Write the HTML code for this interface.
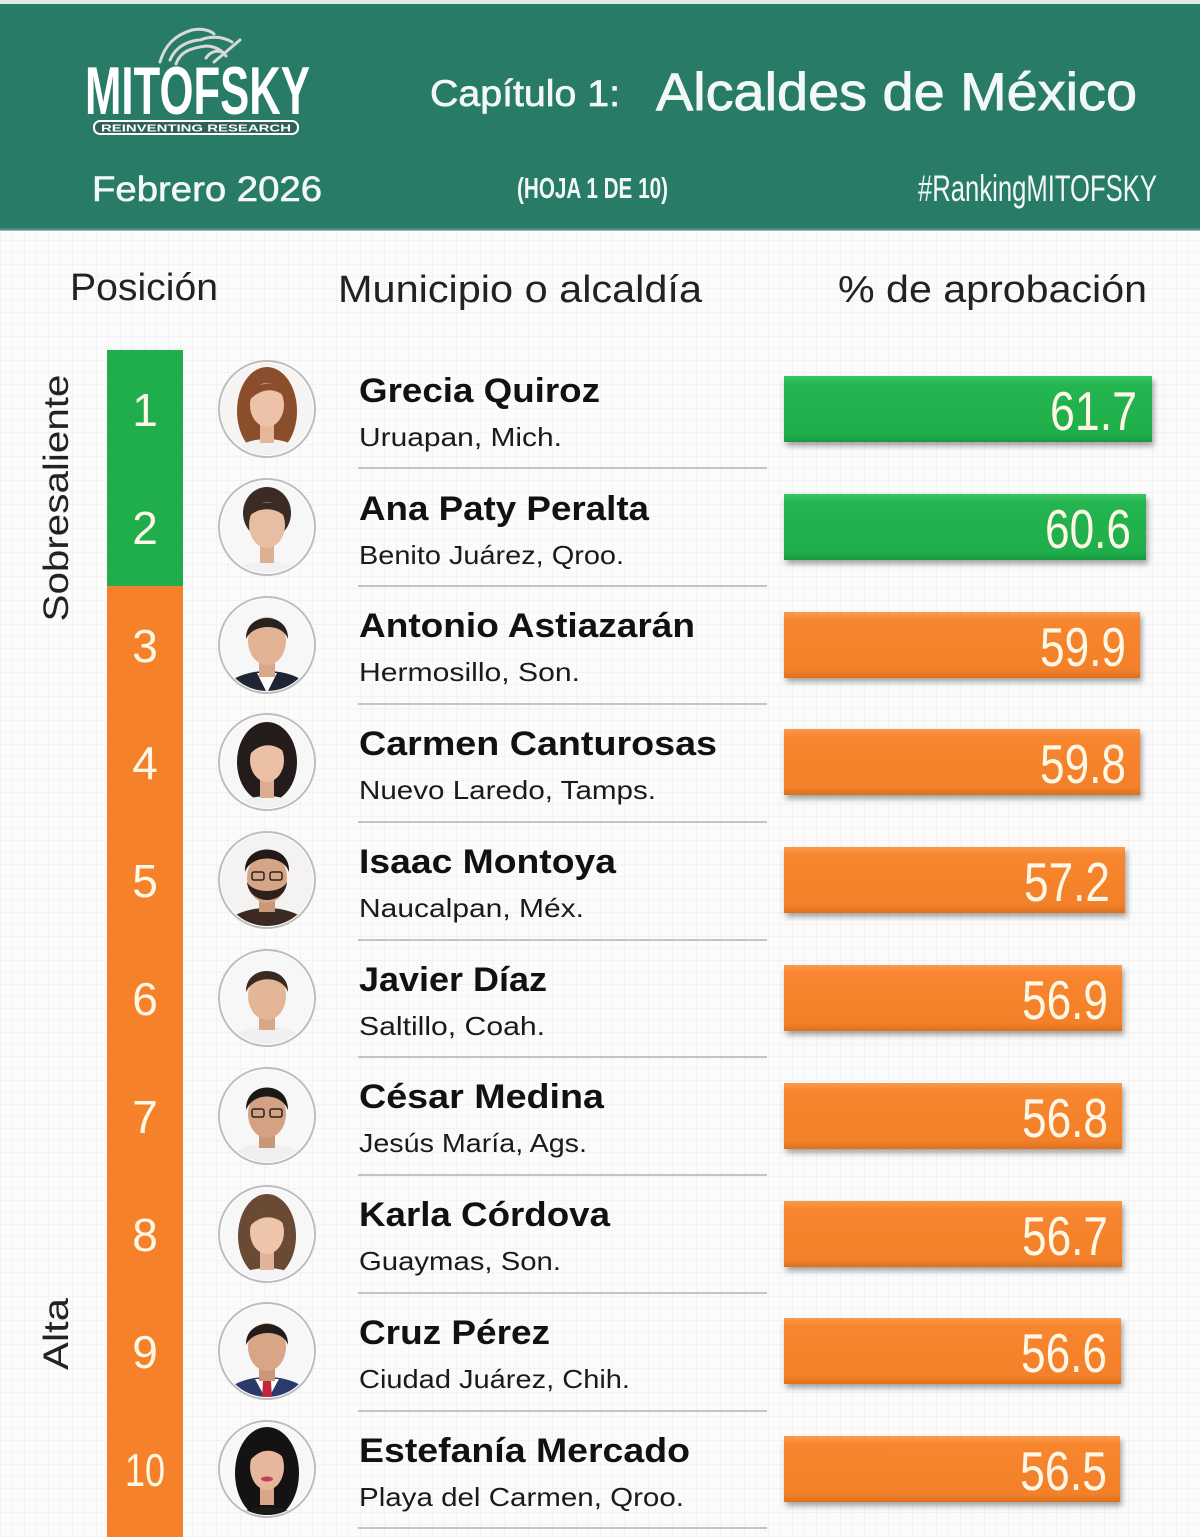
<!DOCTYPE html>
<html>
<head>
<meta charset="utf-8">
<style>
html,body{margin:0;padding:0;background:#fff;}
svg{display:block;}
text{font-family:"Liberation Sans",sans-serif;}
</style>
</head>
<body>
<svg width="1200" height="1537" viewBox="0 0 1200 1537" xmlns="http://www.w3.org/2000/svg">
<defs>
  <pattern id="grid" width="12" height="12" patternUnits="userSpaceOnUse">
    <rect width="12" height="12" fill="#fbfbfb"/>
    <path d="M12 0 L0 0 0 12" fill="none" stroke="#ebebeb" stroke-width="1"/>
  </pattern>
  <linearGradient id="gG" x1="0" y1="0" x2="0" y2="1">
    <stop offset="0" stop-color="#3cc462"/>
    <stop offset="0.12" stop-color="#25b550"/>
    <stop offset="0.88" stop-color="#1fae4a"/>
    <stop offset="1" stop-color="#179a3e"/>
  </linearGradient>
  <linearGradient id="gO" x1="0" y1="0" x2="0" y2="1">
    <stop offset="0" stop-color="#fb9a4c"/>
    <stop offset="0.12" stop-color="#f7862f"/>
    <stop offset="0.88" stop-color="#f38029"/>
    <stop offset="1" stop-color="#dd6f1d"/>
  </linearGradient>
  <filter id="sh" x="-5%" y="-20%" width="115%" height="160%">
    <feDropShadow dx="2" dy="4" stdDeviation="3" flood-color="#000" flood-opacity="0.35"/>
  </filter>
  <clipPath id="cc"><circle cx="0" cy="0" r="46"/></clipPath>
</defs>

<!-- background -->
<rect x="0" y="0" width="1200" height="1537" fill="url(#grid)"/>

<!-- header -->
<rect x="0" y="0" width="1200" height="4" fill="#dcebe6"/>
<rect x="0" y="4" width="1200" height="226" fill="#277b67"/>
<rect x="0" y="228" width="1200" height="3" fill="#5f9d8d" opacity="0.6"/>

<!-- logo bird -->
<g stroke="#d9d9d9" stroke-width="3" fill="none" stroke-linecap="round">
  <path d="M160 62 C165 45 175 35 192 30 C200 28 210 30 214 34"/>
  <path d="M170 60 C175 48 185 42 198 40"/>
  <path d="M176 64 C180 52 190 48 206 46 C214 46 222 50 226 56"/>
  <path d="M200 40 C210 36 222 36 232 42"/>
  <path d="M214 62 L240 40"/>
  <path d="M206 58 C210 52 216 50 222 52"/>
</g>
<text x="85" y="114" font-size="68" font-weight="bold" fill="#ffffff" textLength="225" lengthAdjust="spacingAndGlyphs">MITOFSKY</text>
<rect x="94" y="121" width="204" height="13" rx="6" fill="#2f5f55" stroke="#ffffff" stroke-width="2"/>
<text x="101" y="131.5" font-size="10" font-weight="bold" fill="#ffffff" textLength="190" lengthAdjust="spacingAndGlyphs">REINVENTING RESEARCH</text>

<text x="92" y="201" font-size="35" fill="#f2f8f5" stroke="#f2f8f5" stroke-width="0.6" textLength="230" lengthAdjust="spacingAndGlyphs">Febrero  2026</text>
<text x="430" y="106" font-size="37" fill="#f2f8f5" stroke="#f2f8f5" stroke-width="0.7" textLength="190" lengthAdjust="spacingAndGlyphs">Capítulo 1:</text>
<text x="656" y="110" font-size="53" fill="#f2f8f5" stroke="#f2f8f5" stroke-width="0.9" textLength="481" lengthAdjust="spacingAndGlyphs">Alcaldes de México</text>
<text x="517" y="198" font-size="29" font-weight="bold" fill="#f2f8f5" textLength="151" lengthAdjust="spacingAndGlyphs">(HOJA 1 DE 10)</text>
<text x="918" y="201" font-size="37" fill="#f2f8f5" textLength="239" lengthAdjust="spacingAndGlyphs">#RankingMITOFSKY</text>

<!-- column headers -->
<text x="70" y="300" font-size="38" fill="#222" textLength="148" lengthAdjust="spacingAndGlyphs">Posición</text>
<text x="338" y="302" font-size="38" fill="#222" textLength="364" lengthAdjust="spacingAndGlyphs">Municipio o alcaldía</text>
<text x="838" y="302" font-size="38" fill="#222" textLength="309" lengthAdjust="spacingAndGlyphs">% de aprobación</text>

<!-- rank column -->
<rect x="107" y="350" width="76" height="236" fill="#1fae4b"/>
<rect x="107" y="586" width="76" height="951" fill="#f5822a"/>

<!-- vertical labels -->
<text transform="translate(68,498) rotate(-90)" text-anchor="middle" font-size="35" fill="#222" textLength="247" lengthAdjust="spacingAndGlyphs">Sobresaliente</text>
<text transform="translate(68,1334) rotate(-90)" text-anchor="middle" font-size="35" fill="#222" textLength="72" lengthAdjust="spacingAndGlyphs">Alta</text>

<!-- rank numbers -->
<g font-size="46" fill="#fff8e6" text-anchor="middle">
  <text x="145" y="426">1</text>
  <text x="145" y="544">2</text>
  <text x="145" y="662">3</text>
  <text x="145" y="779">4</text>
  <text x="145" y="897">5</text>
  <text x="145" y="1015">6</text>
  <text x="145" y="1133">7</text>
  <text x="145" y="1251">8</text>
  <text x="145" y="1368">9</text>
  <text x="145" y="1486" textLength="40" lengthAdjust="spacingAndGlyphs">10</text>
</g>

<!-- separators -->
<g stroke="#c4c4c4" stroke-width="2">
  <line x1="358" y1="468" x2="767" y2="468"/>
  <line x1="358" y1="586" x2="767" y2="586"/>
  <line x1="358" y1="704" x2="767" y2="704"/>
  <line x1="358" y1="822" x2="767" y2="822"/>
  <line x1="358" y1="940" x2="767" y2="940"/>
  <line x1="358" y1="1057" x2="767" y2="1057"/>
  <line x1="358" y1="1175" x2="767" y2="1175"/>
  <line x1="358" y1="1293" x2="767" y2="1293"/>
  <line x1="358" y1="1411" x2="767" y2="1411"/>
  <line x1="358" y1="1528" x2="767" y2="1528"/>
</g>

<!-- names & cities -->
<g fill="#111">
  <g font-size="34" font-weight="bold">
    <text x="359" y="402" textLength="241" lengthAdjust="spacingAndGlyphs">Grecia Quiroz</text>
    <text x="359" y="520" textLength="290" lengthAdjust="spacingAndGlyphs">Ana Paty Peralta</text>
    <text x="359" y="637" textLength="336" lengthAdjust="spacingAndGlyphs">Antonio Astiazarán</text>
    <text x="359" y="755" textLength="358" lengthAdjust="spacingAndGlyphs">Carmen Canturosas</text>
    <text x="359" y="873" textLength="257" lengthAdjust="spacingAndGlyphs">Isaac Montoya</text>
    <text x="359" y="991" textLength="188" lengthAdjust="spacingAndGlyphs">Javier Díaz</text>
    <text x="359" y="1108" textLength="245" lengthAdjust="spacingAndGlyphs">César Medina</text>
    <text x="359" y="1226" textLength="251" lengthAdjust="spacingAndGlyphs">Karla Córdova</text>
    <text x="359" y="1344" textLength="191" lengthAdjust="spacingAndGlyphs">Cruz Pérez</text>
    <text x="359" y="1462" textLength="331" lengthAdjust="spacingAndGlyphs">Estefanía Mercado</text>
  </g>
  <g font-size="26" fill="#1a1a1a">
    <text x="359" y="446" textLength="203" lengthAdjust="spacingAndGlyphs">Uruapan, Mich.</text>
    <text x="359" y="564" textLength="265" lengthAdjust="spacingAndGlyphs">Benito Juárez, Qroo.</text>
    <text x="359" y="681" textLength="221" lengthAdjust="spacingAndGlyphs">Hermosillo, Son.</text>
    <text x="359" y="799" textLength="297" lengthAdjust="spacingAndGlyphs">Nuevo Laredo, Tamps.</text>
    <text x="359" y="917" textLength="225" lengthAdjust="spacingAndGlyphs">Naucalpan, Méx.</text>
    <text x="359" y="1035" textLength="186" lengthAdjust="spacingAndGlyphs">Saltillo, Coah.</text>
    <text x="359" y="1152" textLength="228" lengthAdjust="spacingAndGlyphs">Jesús María, Ags.</text>
    <text x="359" y="1270" textLength="202" lengthAdjust="spacingAndGlyphs">Guaymas, Son.</text>
    <text x="359" y="1388" textLength="271" lengthAdjust="spacingAndGlyphs">Ciudad Juárez, Chih.</text>
    <text x="359" y="1506" textLength="325" lengthAdjust="spacingAndGlyphs">Playa del Carmen, Qroo.</text>
  </g>
</g>

<!-- bars -->
<g filter="url(#sh)">
  <rect x="784" y="376" width="368" height="66" fill="url(#gG)"/>
  <rect x="784" y="494" width="362" height="66" fill="url(#gG)"/>
  <rect x="784" y="612" width="356" height="66" fill="url(#gO)"/>
  <rect x="784" y="729" width="356" height="66" fill="url(#gO)"/>
  <rect x="784" y="847" width="341" height="66" fill="url(#gO)"/>
  <rect x="784" y="965" width="338" height="66" fill="url(#gO)"/>
  <rect x="784" y="1083" width="338" height="66" fill="url(#gO)"/>
  <rect x="784" y="1201" width="338" height="66" fill="url(#gO)"/>
  <rect x="784" y="1318" width="337" height="66" fill="url(#gO)"/>
  <rect x="784" y="1436" width="336" height="66" fill="url(#gO)"/>
</g>
<g font-size="55" fill="#fff8e6" text-anchor="end">
  <text x="1137" y="430" textLength="87" lengthAdjust="spacingAndGlyphs">61.7</text>
  <text x="1131" y="548" textLength="86" lengthAdjust="spacingAndGlyphs">60.6</text>
  <text x="1126" y="666" textLength="86" lengthAdjust="spacingAndGlyphs">59.9</text>
  <text x="1126" y="783" textLength="86" lengthAdjust="spacingAndGlyphs">59.8</text>
  <text x="1110" y="901" textLength="86" lengthAdjust="spacingAndGlyphs">57.2</text>
  <text x="1108" y="1019" textLength="86" lengthAdjust="spacingAndGlyphs">56.9</text>
  <text x="1108" y="1137" textLength="86" lengthAdjust="spacingAndGlyphs">56.8</text>
  <text x="1108" y="1255" textLength="86" lengthAdjust="spacingAndGlyphs">56.7</text>
  <text x="1107" y="1372" textLength="86" lengthAdjust="spacingAndGlyphs">56.6</text>
  <text x="1107" y="1490" textLength="87" lengthAdjust="spacingAndGlyphs">56.5</text>
</g>

<!-- photos -->
<!-- 1 woman auburn -->
<g transform="translate(267,409)">
  <circle r="48" fill="#ffffff" stroke="#bdbdbd" stroke-width="2"/>
  <g clip-path="url(#cc)">
    <rect x="-48" y="-48" width="96" height="96" fill="#f6f4f2"/>
    <ellipse cx="0" cy="2" rx="30" ry="44" fill="#8a4e2c"/>
    <ellipse cx="0" cy="54" rx="40" ry="24" fill="#f2f2f4"/>
    <rect x="-7" y="12" width="14" height="22" fill="#e6b59a"/>
    <ellipse cx="0" cy="-4" rx="17" ry="22" fill="#edc2a8"/>
    <path d="M-20 -6 C-20 -30 20 -34 22 -6 C14 -22 -6 -24 -20 -6Z" fill="#8a4e2c"/>
  </g>
</g>
<!-- 2 woman dark hair back -->
<g transform="translate(267,527)">
  <circle r="48" fill="#ffffff" stroke="#bdbdbd" stroke-width="2"/>
  <g clip-path="url(#cc)">
    <rect x="-48" y="-48" width="96" height="96" fill="#f7f7f7"/>
    <ellipse cx="0" cy="-14" rx="24" ry="26" fill="#3a2c24"/>
    <ellipse cx="0" cy="56" rx="38" ry="22" fill="#f1f1f1"/>
    <rect x="-7" y="14" width="14" height="22" fill="#dcae92"/>
    <ellipse cx="0" cy="-2" rx="18" ry="23" fill="#e8bea2"/>
    <path d="M-20 -8 C-18 -30 18 -30 20 -8 C12 -20 -10 -22 -20 -8Z" fill="#3a2c24"/>
  </g>
</g>
<!-- 3 man suit -->
<g transform="translate(267,645)">
  <circle r="48" fill="#ffffff" stroke="#bdbdbd" stroke-width="2"/>
  <g clip-path="url(#cc)">
    <rect x="-48" y="-48" width="96" height="96" fill="#f7f7f7"/>
    <ellipse cx="0" cy="52" rx="46" ry="26" fill="#1f2533"/>
    <path d="M-10 28 L0 48 L10 28Z" fill="#ffffff"/>
    <rect x="-8" y="14" width="16" height="18" fill="#d9a88a"/>
    <ellipse cx="0" cy="-4" rx="19" ry="24" fill="#e2b394"/>
    <path d="M-21 -6 C-22 -34 22 -34 21 -6 C16 -22 -14 -22 -21 -6Z" fill="#2a2220"/>
  </g>
</g>
<!-- 4 woman dark hair -->
<g transform="translate(267,762)">
  <circle r="48" fill="#ffffff" stroke="#bdbdbd" stroke-width="2"/>
  <g clip-path="url(#cc)">
    <rect x="-48" y="-48" width="96" height="96" fill="#f7f7f7"/>
    <ellipse cx="0" cy="0" rx="30" ry="40" fill="#231c1a"/>
    <ellipse cx="0" cy="56" rx="38" ry="22" fill="#f2f2f2"/>
    <rect x="-7" y="14" width="14" height="22" fill="#dcac90"/>
    <ellipse cx="0" cy="-2" rx="17" ry="22" fill="#ebc0a4"/>
    <path d="M-20 -4 C-20 -30 20 -32 22 -4 C12 -20 -8 -22 -20 -4Z" fill="#231c1a"/>
  </g>
</g>
<!-- 5 man beard glasses -->
<g transform="translate(267,880)">
  <circle r="48" fill="#ffffff" stroke="#bdbdbd" stroke-width="2"/>
  <g clip-path="url(#cc)">
    <rect x="-48" y="-48" width="96" height="96" fill="#f5f3f1"/>
    <ellipse cx="0" cy="54" rx="46" ry="26" fill="#3a2a22"/>
    <rect x="-8" y="14" width="16" height="18" fill="#c99878"/>
    <ellipse cx="0" cy="-2" rx="20" ry="25" fill="#d6a585"/>
    <path d="M-20 2 C-18 26 18 26 20 2 C14 14 -14 14 -20 2Z" fill="#2a201c"/>
    <path d="M-22 -8 C-24 -38 24 -38 22 -8 C16 -26 -16 -26 -22 -8Z" fill="#231a18"/>
    <g fill="none" stroke="#222" stroke-width="1.5"><rect x="-15" y="-8" width="12" height="8" rx="2"/><rect x="3" y="-8" width="12" height="8" rx="2"/></g>
  </g>
</g>
<!-- 6 man white shirt -->
<g transform="translate(267,998)">
  <circle r="48" fill="#ffffff" stroke="#bdbdbd" stroke-width="2"/>
  <g clip-path="url(#cc)">
    <rect x="-48" y="-48" width="96" height="96" fill="#f7f7f7"/>
    <ellipse cx="0" cy="54" rx="44" ry="26" fill="#f0f0f0"/>
    <rect x="-8" y="14" width="16" height="18" fill="#d7a888"/>
    <ellipse cx="0" cy="-2" rx="19" ry="24" fill="#e3b696"/>
    <path d="M-21 -6 C-22 -34 22 -34 21 -6 C14 -24 -14 -22 -21 -6Z" fill="#3a2a20"/>
  </g>
</g>
<!-- 7 man glasses white shirt -->
<g transform="translate(267,1116)">
  <circle r="48" fill="#ffffff" stroke="#bdbdbd" stroke-width="2"/>
  <g clip-path="url(#cc)">
    <rect x="-48" y="-48" width="96" height="96" fill="#f7f7f7"/>
    <ellipse cx="0" cy="54" rx="44" ry="26" fill="#efefef"/>
    <rect x="-8" y="14" width="16" height="18" fill="#c99676"/>
    <ellipse cx="0" cy="-2" rx="19" ry="24" fill="#d6a182"/>
    <path d="M-21 -6 C-22 -36 22 -36 21 -6 C14 -24 -14 -24 -21 -6Z" fill="#1c1816"/>
    <g fill="none" stroke="#222" stroke-width="1.5"><rect x="-15" y="-7" width="12" height="8" rx="2"/><rect x="3" y="-7" width="12" height="8" rx="2"/></g>
  </g>
</g>
<!-- 8 woman brown hair -->
<g transform="translate(267,1234)">
  <circle r="48" fill="#ffffff" stroke="#bdbdbd" stroke-width="2"/>
  <g clip-path="url(#cc)">
    <rect x="-48" y="-48" width="96" height="96" fill="#f7f7f7"/>
    <ellipse cx="0" cy="2" rx="29" ry="42" fill="#6a4a34"/>
    <ellipse cx="0" cy="56" rx="38" ry="22" fill="#f4f4f4"/>
    <rect x="-7" y="14" width="14" height="22" fill="#e2b398"/>
    <ellipse cx="0" cy="-2" rx="17" ry="22" fill="#eec5aa"/>
    <path d="M-20 -4 C-20 -30 20 -32 22 -4 C12 -20 -8 -22 -20 -4Z" fill="#6a4a34"/>
  </g>
</g>
<!-- 9 man suit red tie -->
<g transform="translate(267,1351)">
  <circle r="48" fill="#ffffff" stroke="#bdbdbd" stroke-width="2"/>
  <g clip-path="url(#cc)">
    <rect x="-48" y="-48" width="96" height="96" fill="#f7f7f7"/>
    <ellipse cx="0" cy="52" rx="46" ry="26" fill="#2a3a6a"/>
    <path d="M-12 28 L0 50 L12 28Z" fill="#ffffff"/>
    <path d="M-4 30 L4 30 L5 48 L-5 48Z" fill="#c0283a"/>
    <rect x="-8" y="14" width="16" height="16" fill="#c99676"/>
    <ellipse cx="0" cy="-4" rx="19" ry="24" fill="#d8a586"/>
    <path d="M-21 -6 C-22 -34 22 -34 21 -6 C16 -22 -14 -22 -21 -6Z" fill="#221c1a"/>
  </g>
</g>
<!-- 10 woman black long hair -->
<g transform="translate(267,1469)">
  <circle r="48" fill="#ffffff" stroke="#bdbdbd" stroke-width="2"/>
  <g clip-path="url(#cc)">
    <rect x="-48" y="-48" width="96" height="96" fill="#f7f7f7"/>
    <ellipse cx="0" cy="4" rx="32" ry="46" fill="#141212"/>
    <ellipse cx="0" cy="58" rx="38" ry="20" fill="#1a1a1a"/>
    <rect x="-7" y="14" width="14" height="22" fill="#d9a68a"/>
    <ellipse cx="0" cy="-2" rx="17" ry="23" fill="#e6b79c"/>
    <path d="M-20 -4 C-20 -32 20 -34 22 -4 C12 -22 -8 -24 -20 -4Z" fill="#141212"/>
    <ellipse cx="0" cy="10" rx="6" ry="2.5" fill="#c0405a"/>
  </g>
</g>
</svg>
</body>
</html>
